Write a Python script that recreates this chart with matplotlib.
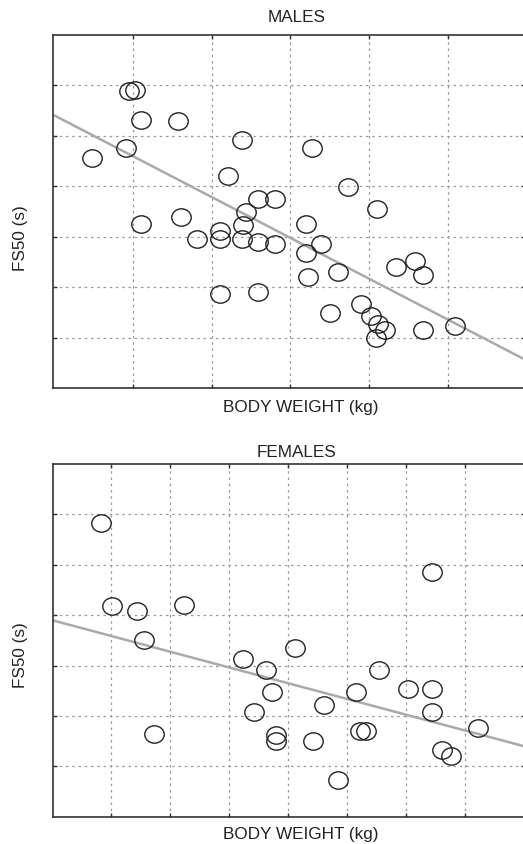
import numpy as np
import matplotlib
matplotlib.use("Agg")
import matplotlib.pyplot as plt
from matplotlib.path import Path
from matplotlib.transforms import Affine2D

plt.rcParams['font.family'] = ['Liberation Sans', 'DejaVu Sans']

# ---------------- data ----------------
male_weight = [0.47, 0.91, 0.94, 1.02, 1.10, 1.57, 2.38, 3.28, 2.21, 3.73,
               4.10, 2.59, 2.80, 2.44, 1.10, 1.61, 3.20, 2.10, 2.40, 1.81,
               2.10, 2.38, 2.59, 2.80, 3.39, 3.20, 3.60, 3.22, 4.34, 4.59,
               4.69, 2.10, 2.59, 3.50, 3.90, 4.02, 4.12, 4.20, 4.09, 4.69,
               5.10]
male_fs50 = [4.56, 4.75, 5.88, 5.91, 5.31, 5.29, 4.91, 4.75, 4.21, 3.98,
             3.55, 3.75, 3.75, 3.50, 3.25, 3.39, 3.25, 3.12, 3.23, 2.95,
             2.95, 2.95, 2.89, 2.86, 2.86, 2.68, 2.30, 2.20, 2.39, 2.52,
             2.25, 1.87, 1.90, 1.49, 1.67, 1.43, 1.26, 1.16, 1.00, 1.16,
             1.22]
male_fit = [5.40, -0.808]      # intercept, slope

female_weight = [0.83, 1.02, 1.43, 2.23, 1.56, 6.43, 4.11, 3.23, 3.63, 5.53,
                 3.72, 5.14, 6.02, 6.43, 4.60, 3.42, 6.43, 1.72, 3.80, 3.80,
                 4.41, 5.22, 5.31, 7.22, 6.61, 6.75, 4.84]
female_fs50 = [5.82, 4.19, 4.08, 4.21, 3.51, 4.86, 3.34, 3.13, 2.91, 2.91,
               2.47, 2.47, 2.53, 2.53, 2.21, 2.08, 2.08, 1.65, 1.63, 1.50,
               1.51, 1.71, 1.71, 1.77, 1.32, 1.21, 0.72]
female_fit = [3.90, -0.313]

male_xticks = [1, 2, 3, 4, 5]
female_xticks = [1, 2, 3, 4, 5, 6, 7]
yticks = [1, 2, 3, 4, 5, 6]

titles = ["MALES", "FEMALES"]
xlabel = "BODY WEIGHT (kg)"
ylabel = "FS50 (s)"

# ---------------- figure ----------------
W, H = 523, 844
fig = plt.figure(figsize=(W / 100, H / 100), dpi=100)

ellipse = Path.unit_circle().transformed(Affine2D().scale(1.12, 1.0))

def fx(px):
    return px / W

def fy(py):
    return 1 - py / H

panels = [
    dict(rect=[fx(53.3), fy(388), fx(524.5) - fx(53.3), fy(35) - fy(388)],
         x=male_weight, y=male_fs50, fit=male_fit, xlim=(-0.02, 5.98),
         xt=male_xticks, title_y=18, xl_y=407, yl_y=238),
    dict(rect=[fx(52.7), fy(816.7), fx(524.5) - fx(52.7), fy(464) - fy(816.7)],
         x=female_weight, y=female_fs50, fit=female_fit, xlim=(0.01, 8.0),
         xt=female_xticks, title_y=452.5, xl_y=835, yl_y=655),
]

for title, p in zip(titles, panels):
    ax = fig.add_axes(p['rect'])
    ax.set_xlim(*p['xlim'])
    ax.set_ylim(0, 7)
    ax.set_xticks(p['xt'])
    ax.set_yticks(yticks)
    ax.tick_params(direction='in', length=3, width=1.0, color='#333333',
                   labelbottom=False, labelleft=False,
                   top=True, right=True)
    ax.grid(True, color='#9a9a9a', linestyle=(0, (2.0, 3.0)), linewidth=0.9)
    ax.set_axisbelow(True)
    for s in ax.spines.values():
        s.set_color('#333333')
        s.set_linewidth(1.2)

    xx = np.array(p['xlim'])
    ax.plot(xx, p['fit'][0] + p['fit'][1] * xx, color='#aaaaaa',
            linewidth=1.8, zorder=2, solid_capstyle='butt')

    ax.plot(p['x'], p['y'], linestyle='none', marker=ellipse, markersize=14,
            markerfacecolor='none', markeredgecolor='#222222',
            markeredgewidth=1.0, zorder=3)

    fig.text(fx(296.7), fy(p['title_y']), title, ha='center', va='center',
             fontsize=12.3, color='#222222')
    fig.text(fx(300.8), fy(p['xl_y']), xlabel, ha='center', va='center',
             fontsize=12.3, color='#222222')
    fig.text(fx(20), fy(p['yl_y']), ylabel, ha='center', va='center',
             rotation=90, fontsize=12.3, color='#222222')

fig.savefig("out.png", dpi=100)
